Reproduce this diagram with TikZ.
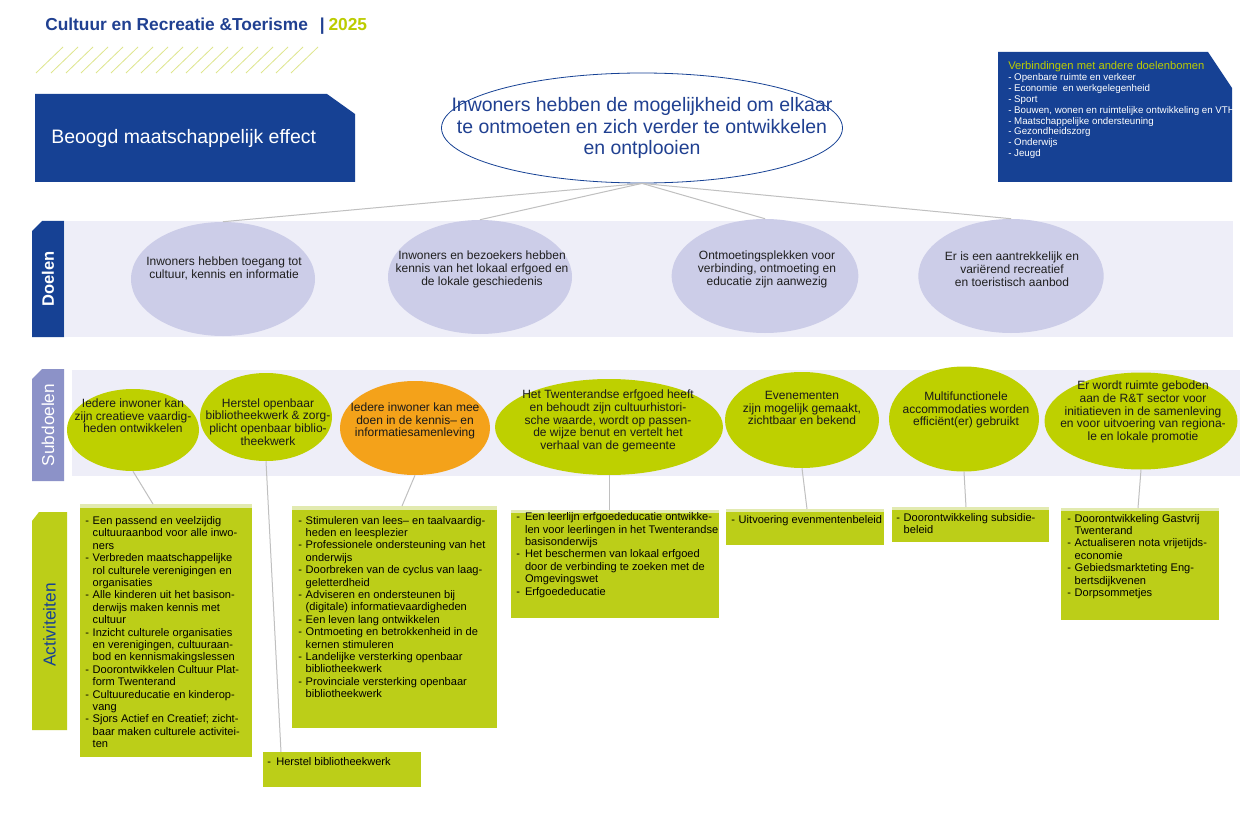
\documentclass[tikz,border=0pt]{standalone}
\usepackage{fontspec}
\setmainfont{Liberation Sans}
\usetikzlibrary{shapes.geometric,fit}
\definecolor{dblue}{RGB}{22,65,148}
\definecolor{tblue}{RGB}{32,64,145}
\definecolor{lgreen}{RGB}{190,208,0}
\definecolor{agreen}{RGB}{188,206,24}
\definecolor{stripg}{RGB}{226,234,176}
\definecolor{orng}{RGB}{244,162,26}
\definecolor{lav}{RGB}{204,205,232}
\definecolor{panelbg}{RGB}{238,238,248}
\definecolor{subtab}{RGB}{140,146,200}
\definecolor{linkgray}{RGB}{192,192,192}
\definecolor{hatchc}{RGB}{222,230,140}
\definecolor{ttlgreen}{RGB}{188,204,0}
\newcommand\actdash{\makebox[5.6pt][l]{-}}
\begin{document}
\begin{tikzpicture}[x=0.75pt,y=-0.75pt,
  link/.style={draw=linkgray, line width=0.75pt},
  doel/.style={ellipse, fill=lav, inner sep=0pt, minimum width=138pt, minimum height=85.5pt},
  subd/.style={ellipse, fill=lgreen, inner sep=0pt},
  dtxt/.style={align=center, inner sep=0pt, text=black!88, font=\fontsize{9}{9.75}\selectfont},
  stxt/.style={align=center, inner sep=0pt, text=black!90, font=\fontsize{9}{9.5}\selectfont},
  atxt/.style={anchor=base west, inner sep=0pt, text=black, font=\fontsize{8.3}{9.3}\selectfont},
  actbox/.style={fill=agreen, inner sep=0pt, draw=none},
  tabtxt/.style={rotate=90, inner sep=0pt}
]
\useasboundingbox (0,0) rectangle (1257,838);
\fill[white] (0,0) rectangle (1257,838);

% title
\node[anchor=base west, inner sep=0pt, text=tblue, font=\bfseries\fontsize{13}{15}\selectfont] (title) at (45,31)
  {Cultuur en Recreatie \&Toerisme\hspace{0.69em}|\hspace{0.22em}\textcolor{ttlgreen}{2025}};

% hatch
\foreach \k in {0,...,17} \draw[hatchc, line width=0.6pt] (36+15*\k,73) -- (63+15*\k,47);

% Beoogd box
\fill[dblue] (35,94) -- (327,94) -- (355,114) -- (355,182) -- (35,182) -- cycle;
\node[anchor=base west, inner sep=0pt, text=white, font=\fontsize{14.6}{16}\selectfont] (beoogd) at (51,144) {Beoogd maatschappelijk effect};

% top right box
\fill[dblue] (998,52) -- (1208,52) -- (1232,88) -- (1232,182) -- (998,182) -- cycle;
\begin{scope}
\clip (998,52) rectangle (1232,182);
\node[anchor=base west, inner sep=0pt, text=ttlgreen, font=\fontsize{8.4}{9}\selectfont] (verbt) at (1008,70) {Verbindingen met andere doelenbomen};
\node[anchor=base west, inner sep=0pt, text=white, font=\fontsize{7.3}{8.1}\selectfont] (verbl) at (1008,81)
 {\begin{tabular}[t]{@{}l@{}}
 - Openbare ruimte en verkeer\\
 - Economie \ en werkgelegenheid\\
 - Sport\\
 - Bouwen, wonen en ruimtelijke ontwikkeling en VTH\\
 - Maatschappelijke ondersteuning\\
 - Gezondheidszorg\\
 - Onderwijs\\
 - Jeugd
 \end{tabular}};
\end{scope}

% main ellipse
\node[ellipse, draw=dblue, line width=0.6pt, fill=white, inner sep=0pt, minimum width=300.75pt, minimum height=82.5pt] (main) at (642,128) {};
\node[align=center, inner sep=0pt, text=tblue, font=\fontsize{14.6}{16}\selectfont] (maintxt) at (642,128)
 {Inwoners hebben de mogelijkheid om elkaar\\te ontmoeten en zich verder te ontwikkelen\\en ontplooien};

% Doelen row
\fill[panelbg] (65,221) rectangle (1233,337);
\fill[dblue] (32,231) -- (42,221) -- (64,221) -- (64,337) -- (32,337) -- cycle;
\node[tabtxt, text=white, font=\bfseries\fontsize{12.4}{14}\selectfont] (tdoel) at (48,279) {Doelen};

\node[doel] (d1) at (223,279) {};
\node[doel] (d2) at (480,277) {};
\node[doel, minimum width=140pt] (d3) at (765,276) {};
\node[doel, minimum width=139pt] (d4) at (1011,276) {};
\node[dtxt] (d1t) at (224,268) {Inwoners hebben toegang tot\\cultuur, kennis en informatie};
\node[dtxt] (d2t) at (482,269) {Inwoners en bezoekers hebben\\kennis van het lokaal erfgoed en\\de lokale geschiedenis};
\node[dtxt] (d3t) at (767,269) {Ontmoetingsplekken voor\\verbinding, ontmoeting en\\educatie zijn aanwezig};
\node[dtxt] (d4t) at (1012,269) {Er is een aantrekkelijk en\\variërend recreatief\\en toeristisch aanbod};

\draw[link] (main.south) -- (d1.north);
\draw[link] (main.south) -- (d2.north);
\draw[link] (main.south) -- (d3.north);
\draw[link] (main.south) -- (d4.north);

% Subdoelen row
\fill[panelbg] (72,370) rectangle (1240,476);
\fill[subtab] (32,379) -- (42,369) -- (64,369) -- (64,481) -- (32,481) -- cycle;
\node[tabtxt, text=white, font=\fontsize{12.9}{14}\selectfont] (tsub) at (48,425) {Subdoelen};

\node[subd, minimum width=99pt, minimum height=61.5pt] (s1) at (133,430) {};
\node[subd, minimum width=99pt, minimum height=66pt] (s2) at (266,417) {};
\node[subd, fill=orng, minimum width=112.5pt, minimum height=70.5pt] (s3) at (415,428) {};
\node[subd, minimum width=171pt, minimum height=72pt] (s4) at (609,427) {};
\node[subd, minimum width=115.5pt, minimum height=72pt] (s5) at (802,420) {};
\node[subd, minimum width=112.5pt, minimum height=78.75pt] (s6) at (964,419) {};
\node[subd, minimum width=144.75pt, minimum height=72.75pt] (s7) at (1141,421) {};

\node[stxt] (s1t) at (133,416) {Iedere inwoner kan\\zijn creatieve vaardig-\\heden ontwikkelen};
\node[stxt] (s2t) at (268,422) {Herstel openbaar\\bibliotheekwerk \& zorg-\\plicht openbaar biblio-\\theekwerk};
\node[stxt] (s3t) at (415,421) {Iedere inwoner kan mee\\doen in de kennis– en\\informatiesamenleving};
\node[stxt] (s4t) at (608,421) {Het Twenterandse erfgoed heeft\\en behoudt zijn cultuurhistori-\\sche waarde, wordt op passen-\\de wijze benut en vertelt het\\verhaal van de gemeente};
\node[stxt] (s5t) at (802,408) {Evenementen\\zijn mogelijk gemaakt,\\zichtbaar en bekend};
\node[stxt] (s6t) at (966,410) {Multifunctionele\\accommodaties worden\\efficiënt(er) gebruikt};
\node[stxt] (s7t) at (1143,412) {Er wordt ruimte geboden\\aan de R\&T sector voor\\initiatieven in de samenleving\\en voor uitvoering van regiona-\\le en lokale promotie};

% Activiteiten
\fill[agreen] (32,521) -- (39,512) -- (67,512) -- (67,730) -- (32,730) -- cycle;
\node[tabtxt, text=dblue, font=\fontsize{13}{14}\selectfont] (tact) at (49.5,625) {Activiteiten};

\node[actbox, fit={(80,504)(252,757)}] (boxA) {};
\node[actbox, fit={(292,506)(497,728)}] (boxB) {};
\node[actbox, fit={(263,752)(421,787)}] (boxC) {};
\node[actbox, fit={(511,510)(719,618)}] (boxD) {};
\node[actbox, fit={(726,509)(884,545)}] (boxE) {};
\node[actbox, fit={(892,507)(1049,542)}] (boxF) {};
\node[actbox, fit={(1061,508)(1219,620)}] (boxG) {};
\fill[stripg] (80,504) rectangle (252,508);
\fill[stripg] (292,506) rectangle (497,510);
\fill[stripg] (511,510) rectangle (719,513);
\fill[stripg] (726,509) rectangle (884,512);
\fill[stripg] (892,507) rectangle (1049,510);
\fill[stripg] (1061,508) rectangle (1219,511);

\node[atxt, font=\fontsize{8.3}{9.3}\selectfont] (at) at (85,524.5)
 {\begin{tabular}[t]{@{}l@{}l@{}}
 \actdash & Een passend en veelzijdig\\
 & cultuuraanbod voor alle inwo-\\
 & ners\\
 \actdash & Verbreden maatschappelijke\\
 & rol culturele verenigingen en\\
 & organisaties\\
 \actdash & Alle kinderen uit het basison-\\
 & derwijs maken kennis met\\
 & cultuur\\
 \actdash & Inzicht culturele organisaties\\
 & en verenigingen, cultuuraan-\\
 & bod en kennismakingslessen\\
 \actdash & Doorontwikkelen Cultuur Plat-\\
 & form Twenterand\\
 \actdash & Cultuureducatie en kinderop-\\
 & vang\\
 \actdash & Sjors Actief en Creatief; zicht-\\
 & baar maken culturele activitei-\\
 & ten
 \end{tabular}};

\node[atxt] (bt) at (298,524)
 {\begin{tabular}[t]{@{}l@{}l@{}}
 \actdash & Stimuleren van lees– en taalvaardig-\\
 & heden en leesplezier\\
 \actdash & Professionele ondersteuning van het\\
 & onderwijs\\
 \actdash & Doorbreken van de cyclus van laag-\\
 & geletterdheid\\
 \actdash & Adviseren en ondersteunen bij\\
 & (digitale) informatievaardigheden\\
 \actdash & Een leven lang ontwikkelen\\
 \actdash & Ontmoeting en betrokkenheid in de\\
 & kernen stimuleren\\
 \actdash & Landelijke versterking openbaar\\
 & bibliotheekwerk\\
 \actdash & Provinciale versterking openbaar\\
 & bibliotheekwerk
 \end{tabular}};

\node[atxt] (ct) at (267,765.5)
 {\begin{tabular}[t]{@{}l@{}l@{}}
 \actdash\hspace{1.2pt} & Herstel bibliotheekwerk
 \end{tabular}};

\node[atxt] (dt) at (516,520.7)
 {\begin{tabular}[t]{@{}l@{}l@{}}
 \actdash\hspace{1pt} & Een leerlijn erfgoededucatie ontwikke-\\
 & len voor leerlingen in het Twenterandse\\
 & basisonderwijs\\
 \actdash\hspace{1pt} & Het beschermen van lokaal erfgoed\\
 & door de verbinding te zoeken met de\\
 & Omgevingswet\\
 \actdash\hspace{1pt} & Erfgoededucatie
 \end{tabular}};

\node[atxt] (et) at (731,523)
 {\begin{tabular}[t]{@{}l@{}l@{}}
 \actdash & Uitvoering evenmentenbeleid
 \end{tabular}};

\node[atxt] (ft) at (896,521.3)
 {\begin{tabular}[t]{@{}l@{}l@{}}
 \actdash & Doorontwikkeling subsidie-\\
 & beleid
 \end{tabular}};

\node[atxt] (gt) at (1067,522)
 {\begin{tabular}[t]{@{}l@{}l@{}}
 \actdash & Doorontwikkeling Gastvrij\\
 & Twenterand\\
 \actdash & Actualiseren nota vrijetijds-\\
 & economie\\
 \actdash & Gebiedsmarkteting Eng-\\
 & bertsdijkvenen\\
 \actdash & Dorpsommetjes
 \end{tabular}};

% connectors subdoel -> activities
\coordinate (a1) at (153,504);
\coordinate (a2) at (281,752);
\coordinate (a3) at (402,506);
\coordinate (a4) at (609,510);
\coordinate (a5) at (807,509);
\coordinate (a6) at (966,507);
\coordinate (a7) at (1138,508);
\draw[link] (s1.south) -- (a1);
\draw[link] (s2.south) -- (a2);
\draw[link] (s3.south) -- (a3);
\draw[link] (s4.south) -- (a4);
\draw[link] (s5.south) -- (a5);
\draw[link] (s6.south) -- (a6);
\draw[link] (s7.south) -- (a7);
\end{tikzpicture}
\end{document}
